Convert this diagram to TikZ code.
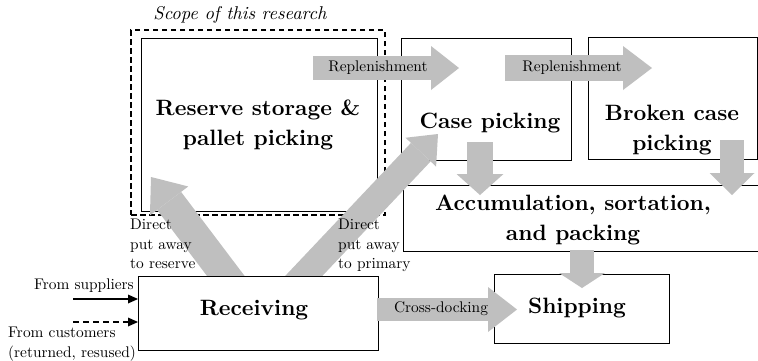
\documentclass[tikz,border=0pt]{standalone}
\usepackage{fontspec}
\setmainfont{lmroman10}[Extension=.otf, UprightFont=*-regular, BoldFont=*-bold, ItalicFont=*-italic, BoldItalicFont=*-bolditalic]
\usetikzlibrary{arrows.meta}
\begin{document}
\begin{tikzpicture}[x=1pt,y=-1pt,
  box/.style={draw=black, line width=0.9pt, fill=white, inner sep=0pt, outer sep=0pt},
  scopebox/.style={draw=black, line width=2.4pt, dash pattern=on 5.5pt off 3.5pt, inner sep=0pt, outer sep=0pt},
  fat/.style n args={3}{draw=black!25, line width=#1, -{Triangle[length=#2, width=#3, line width=0pt]}},
  big/.style={font=\fontsize{22.2}{30}\selectfont\bfseries, align=center, inner sep=0pt},
  small/.style={font=\fontsize{15.4}{19.5}\selectfont, align=left, inner sep=0pt},
  lab/.style={font=\fontsize{15.4}{18}\selectfont, inner sep=0pt},
  feed/.style={line width=2.5pt, -{Triangle[length=10pt, width=9pt, line width=0pt]}}
]
\useasboundingbox (0,0) rectangle (758,360);

% boxes
\node[box, minimum width=236pt, minimum height=173pt] (reserve) at (259,124.5) {};
\node[scopebox, minimum width=254pt, minimum height=185pt] (scope) at (258,122.5) {};
\node[box, minimum width=170pt, minimum height=122pt] (case) at (486,99) {};
\node[box, minimum width=169pt, minimum height=122pt] (broken) at (672.5,98) {};
\node[box, minimum width=370pt, minimum height=66pt] (accum) at (588,218) {};
\node[box, minimum width=175pt, minimum height=69pt] (ship) at (581.5,308.5) {};

% diagonal arrows (start inside Receiving, which covers their tails)
\coordinate (dl1) at (244,300); \coordinate (dl2) at (151,177);
\coordinate (dr1) at (281,300); \coordinate (dr2) at (438,134);
\draw[fat={30pt}{30pt}{48pt}] (dl1) -- (dl2);
\draw[fat={27pt}{25pt}{42pt}] (dr1) -- (dr2);

\node[box, minimum width=240pt, minimum height=74pt] (recv) at (258,313) {};

% other fat arrows
\coordinate (r1s) at (313,68); \coordinate (r1e) at (459,68);
\coordinate (r2s) at (505,68); \coordinate (r2e) at (652,68);
\coordinate (cxs) at (377,309.5); \coordinate (cxe) at (517,309.5);
\coordinate (cd1) at (480,142); \coordinate (cd2) at (480,195);
\coordinate (bd1) at (732,140); \coordinate (bd2) at (732,195);
\coordinate (sd1) at (582,250); \coordinate (sd2) at (582,288);
\draw[fat={24pt}{28pt}{44pt}] (r1s) -- (r1e);
\draw[fat={26pt}{29pt}{44pt}] (r2s) -- (r2e);
\draw[fat={23pt}{29pt}{45pt}] (cxs) -- (cxe);
\draw[fat={26pt}{21pt}{47pt}] (cd1) -- (cd2);
\draw[fat={24pt}{22pt}{45pt}] (bd1) -- (bd2);
\draw[fat={24pt}{15pt}{46pt}] (sd1) -- (sd2);

% input arrows
\coordinate (sup) at (73,299);
\coordinate (cus) at (73,322);
\draw[feed] (sup) -- (sup -| recv.west);
\draw[feed, dash pattern=on 6pt off 4pt] (cus) -- (cus -| recv.west);

% texts
\node[font=\fontsize{18.5}{22}\selectfont\itshape, inner sep=0pt] (scopeT) at (240,15) {Scope of this research};
\node[big] (reserveT) at (258,125) {Reserve storage \&\\pallet picking};
\node[big] (caseT) at (490,123) {Case picking};
\node[big] (brokenT) at (672,130) {Broken case\\picking};
\node[big] (accumT) at (573,220) {Accumulation, sortation,\\and packing};
\node[big] (recvT) at (254,310) {Receiving};
\node[big] (shipT) at (577,308) {Shipping};

\node[lab] (r1T) at (378,68) {Replenishment};
\node[lab] (r2T) at (572,68) {Replenishment};
\node[lab] (cxT) at (441,309) {Cross-docking};

\node[small, anchor=north west] (dlT) at (130,219) {Direct\\put away\\to reserve};
\node[small, anchor=north west] (drT) at (338,219) {Direct\\put away\\to primary};
\node[small, anchor=base east] (supT) at (134,289) {From suppliers};
\node[small, anchor=north west] (cusT) at (8,327) {From customers\\(returned, resused)};
\end{tikzpicture}
\end{document}
